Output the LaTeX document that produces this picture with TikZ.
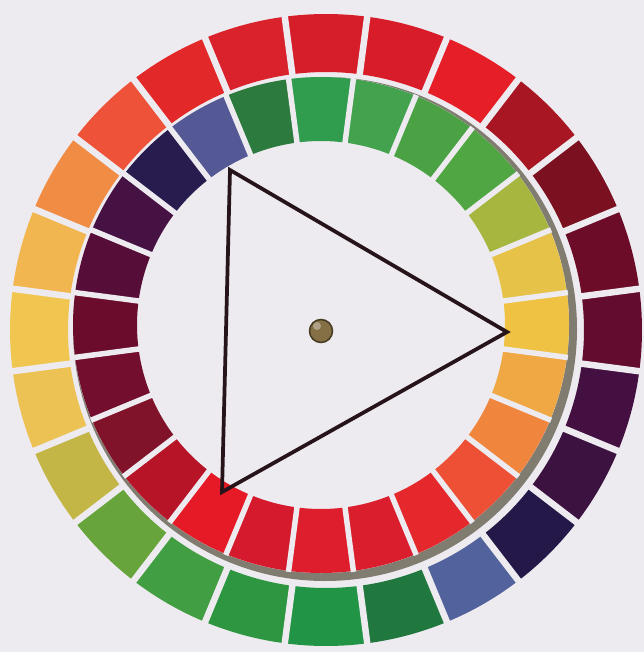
\documentclass[tikz,border=0pt]{standalone}
\definecolor{paper}{RGB}{237,235,239}
\definecolor{rim}{RGB}{128,124,112}
\definecolor{ink}{RGB}{38,20,26}
\definecolor{brass}{RGB}{132,112,68}
\definecolor{brassedge}{RGB}{70,58,34}
\begin{document}
\begin{tikzpicture}[x=0.02cm,y=0.02cm]
\tikzset{gap/.style={draw=paper,line width=0.13cm}}
\useasboundingbox (0,0) rectangle (644,-652);
\fill[paper] (0,0) rectangle (644,-652);
\begin{scope}[shift={(326,-330)}]
\foreach \r/\g/\b [count=\i from 0] in {
  214/30/42, 216/28/42, 230/30/40, 168/22/36, 122/16/32, 108/12/40,
  100/12/48, 68/16/66, 60/18/64, 36/24/72, 82/98/156, 32/120/62,
  34/148/70, 46/150/64, 66/158/66, 104/164/60, 196/182/70, 236/194/84,
  240/198/80, 242/182/80, 240/140/68, 238/82/56, 226/40/40, 218/34/44}
{
  \definecolor{seg}{RGB}{\r,\g,\b}
  \pgfmathsetmacro\a{90-15*\i}
  \fill[seg] (\a-7.5:258) arc[start angle=\a-7.5,end angle=\a+7.5,radius=258]
    -- (\a+7.5:316) arc[start angle=\a+7.5,end angle=\a-7.5,radius=316] -- cycle;
}
\foreach \i in {0,...,23}
  \draw[gap] (97.5-15*\i:256) -- (97.5-15*\i:318);
\end{scope}
\fill[rim] (325,-329) circle[radius=252];
\fill[paper] (321,-325) circle[radius=248];
\begin{scope}[shift={(321,-325)}]
\foreach \r/\g/\b [count=\i from 0] in {
  48/156/78, 66/162/78, 74/162/68, 80/166/66, 166/182/62, 230/194/72,
  240/194/68, 240/168/68, 240/134/62, 238/80/54, 228/40/44, 218/30/46,
  222/30/44, 212/26/44, 230/26/38, 184/20/40, 128/18/42, 115/14/46,
  108/12/44, 86/14/56, 70/18/68, 40/28/78, 84/88/148, 44/122/62}
{
  \definecolor{seg}{RGB}{\r,\g,\b}
  \pgfmathsetmacro\a{90-15*\i}
  \fill[seg] (\a-7.5:184) arc[start angle=\a-7.5,end angle=\a+7.5,radius=184]
    -- (\a+7.5:248) arc[start angle=\a+7.5,end angle=\a-7.5,radius=248] -- cycle;
}
\foreach \i in {0,...,23}
  \draw[gap,line width=0.11cm] (97.5-15*\i:182) -- (97.5-15*\i:249);
\end{scope}
\coordinate (top) at (230,-170);
\coordinate (tip) at (507,-332);
\coordinate (low) at (222,-492);
\draw[ink,line width=0.075cm,line join=miter] (top) -- (tip) -- (low) -- cycle;
\node[circle,fill=brass,draw=brassedge,line width=0.03cm,minimum size=0.46cm,inner sep=0pt] (pin) at (321,-331) {};
\fill[white,opacity=0.35] (317,-326) circle[radius=4];
\end{tikzpicture}
\end{document}
